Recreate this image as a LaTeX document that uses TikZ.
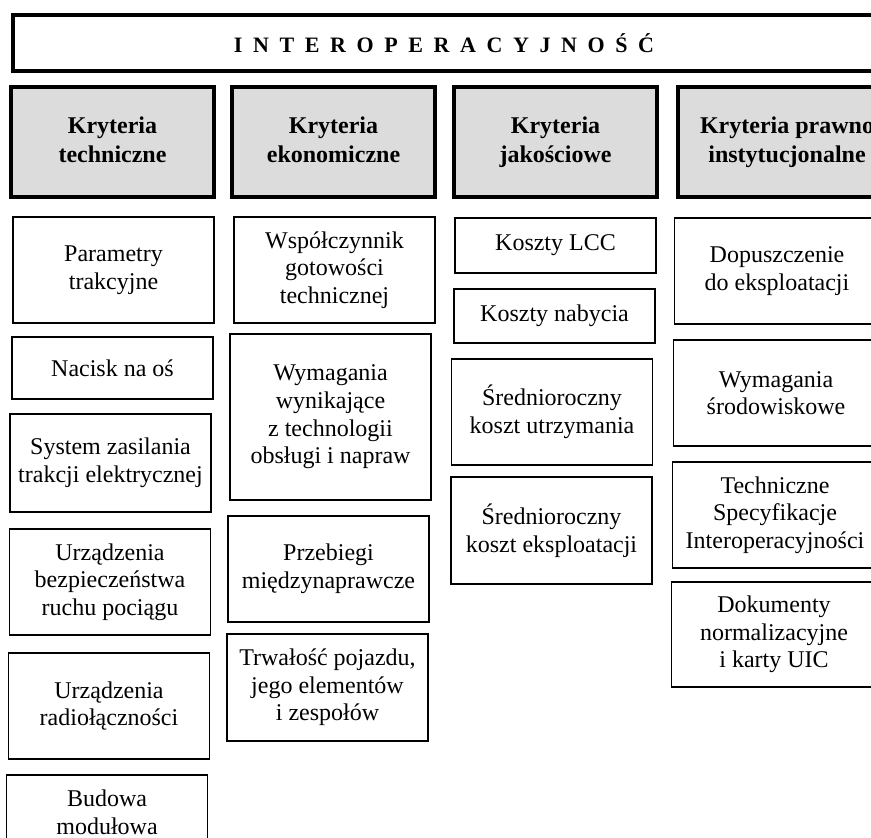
\documentclass[tikz,border=0pt]{standalone}
\usepackage{fontspec}
\setmainfont{Liberation Serif}
\begin{document}
\begin{tikzpicture}[x=0.5pt, y=-0.5pt, font=\fontsize{12pt}{13.8pt}\selectfont,
	komorka/.style={draw, line width=0.9pt, align=center, inner sep=2pt, minimum width=100.5pt, minimum height=53pt},
	naglowek/.style={draw, line width=1.6pt, fill=szary, align=center, inner sep=2pt, font=\fontsize{12pt}{14.5pt}\selectfont\bfseries, minimum width=101.5pt, minimum height=55pt}]
		\definecolor{szary}{RGB}{220, 220, 220}
		
		% 画布
		\useasboundingbox (0,0) rectangle (871,838);
		\clip (0,0) rectangle (871,838);
		
		% 标题
		\node[draw, line width=1.6pt, minimum width=431pt, minimum height=28pt, font=\fontsize{11pt}{13pt}\selectfont\bfseries] (tytul) at (444,43) {\foreach \c in {I,N,T,E,R,O,P,E,R,A,C,Y,J,N,O,Ś}{\c\kern5.3pt}Ć};
		
		% 四类准则
		\node[naglowek] (techn) at (112.5,142) {Kryteria\\techniczne\vphantom{j}};
		\node[naglowek] (ekon) at (333.5,142) {Kryteria\\ekonomiczne\vphantom{j}};
		\node[naglowek] (jakosc) at (555.5,142) {Kryteria\\jakościowe};
		\node[naglowek, minimum width=109pt] (prawo) at (787,142) {Kryteria prawno\\instytucjonalne};
		
		% 技术准则
		\node[komorka] (parametry) at (113.5,270) {Parametry\\trakcyjne};
		\node[komorka, minimum height=31pt] (nacisk) at (112.5,368) {Nacisk na oś};
		\node[komorka, minimum height=49pt] (zasilanie) at (110.5,463) {System zasilania\\trakcji elektrycznej};
		\node[komorka] (bezp) at (110,582) {Urządzenia\\bezpieczeństwa\\ruchu pociągu};
		\node[komorka] (radio) at (109,706) {Urządzenia\\radiołączności};
		\node[komorka, minimum height=37pt] (budowa) at (107,812) {Budowa\\modułowa};
		
		% 经济准则
		\node[komorka] (gotowosc) at (334.5,270) {Współczynnik\\gotowości\\technicznej};
		\node[komorka, minimum height=83pt] (obsluga) at (330.5,417) {Wymagania\\wynikające\\z technologii\\obsługi i napraw};
		\node[komorka] (przebiegi) at (328.5,569) {Przebiegi\\międzynaprawcze};
		\node[komorka, minimum height=53.5pt] (trwalosc) at (327.5,687.5) {Trwałość pojazdu,\\jego elementów\\i zespołów};
		
		% 质量准则
		\node[komorka, minimum height=27.5pt] (lcc) at (555.5,245.5) {Koszty LCC};
		\node[komorka, minimum height=27pt] (nabycie) at (554.5,316) {Koszty nabycia};
		\node[komorka] (utrzymanie) at (552,412) {Średnioroczny\\koszt utrzymania};
		\node[komorka, minimum height=53.5pt] (eksploatacja) at (551.5,530.5) {Średnioroczny\\koszt eksploatacji};
		
		% 法律准则
		\node[komorka, minimum width=102.5pt] (dopuszczenie) at (777,271) {Dopuszczenie\\do eksploatacji};
		\node[komorka, minimum width=102.5pt] (srodowisko) at (776,393) {Wymagania\\środowiskowe};
		\node[komorka, minimum width=102.5pt] (tsi) at (775,515) {Techniczne\\Specyfikacje\\Interoperacyjności};
		\node[komorka, minimum width=102.5pt, minimum height=52.5pt] (uic) at (774,634.5) {Dokumenty\\normalizacyjne\\i karty UIC};
	\end{tikzpicture}
\end{document}
